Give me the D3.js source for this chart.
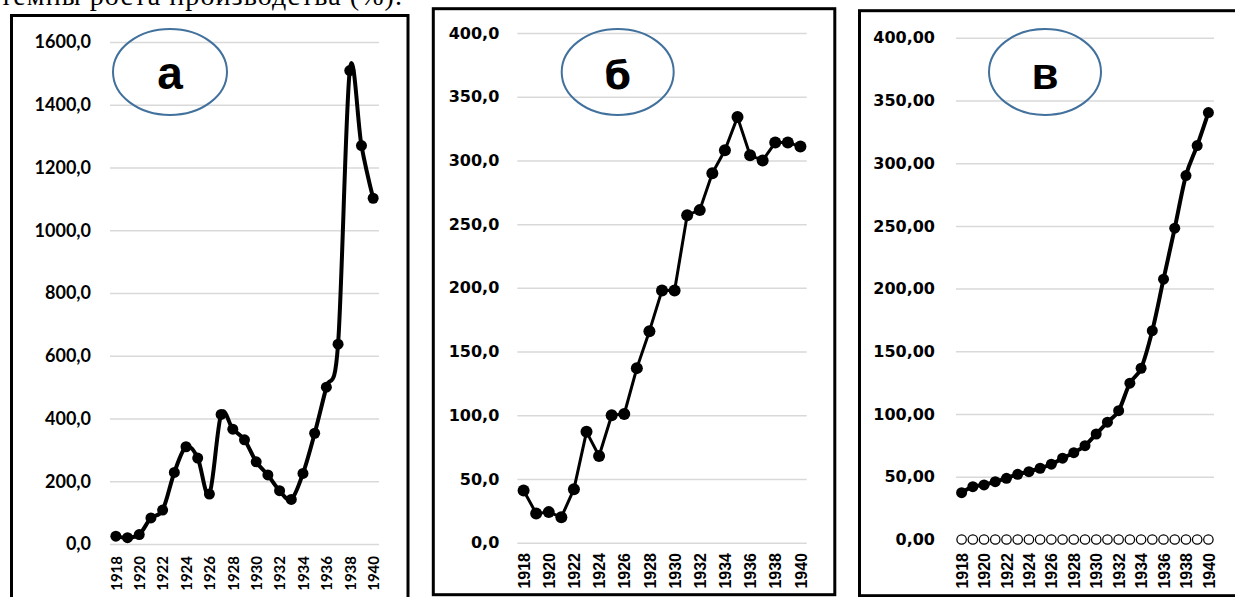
<!DOCTYPE html>
<html>
<head>
<meta charset="utf-8">
<script src="https://cdn.jsdelivr.net/npm/d3@7"></script>
<style>
body { margin: 0; background: #fff; }
</style>
</head>
<body>
<script>
var years = [1918,1919,1920,1921,1922,1923,1924,1925,1926,1927,1928,1929,1930,1931,1932,1933,1934,1935,1936,1937,1938,1939,1940]
var tickYears = [1918,1920,1922,1924,1926,1928,1930,1932,1934,1936,1938,1940]

var seriesA = [25,20,30,83,108,228,310,274,159,413,366,332,262,220,170,142,225,353,500,637,1509,1270,1102]
var seriesB = [41,23,24,20,42,87,68,100,101,137,166,198,198,257,261,290,308,334,304,300,314,314,311]
var seriesV = [37.3,42.1,43.5,46.1,48.8,52,54.1,56.8,60,64.8,69.2,74.8,84.1,93.5,102.7,124.6,136.5,166.5,207.5,248.2,290.1,314,340.3]
var seriesV0 = [0,0,0,0,0,0,0,0,0,0,0,0,0,0,0,0,0,0,0,0,0,0,0]

var ticksA = [0,200,400,600,800,1000,1200,1400,1600]
var ticksB = [0,50,100,150,200,250,300,350,400]
var ticksV = [0,50,100,150,200,250,300,350,400]

var labels = ["а", "б", "в"]

var ru = d3.formatLocale({decimal: ",", thousands: "", grouping: [3], currency: ["", ""]})

var svg = d3.select("body")
	.append("svg")
	.attr("width", 1235)
	.attr("height", 597)

// line of document text above the charts, cut by the top edge as in the scan
svg.append("text")
	.attr("x", 0)
	.attr("y", 5)
	.attr("textLength", 402)
	.attr("lengthAdjust", "spacing")
	.attr("font-family", "Liberation Serif")
	.attr("font-size", 28)
	.text("темпы роста производства (%).")

var panels = [
	{box: [11.5, 15.5, 396.5, 620], x: [110, 379], y: [544, 42], max: 1600, ticks: ticksA, fmt: ru.format(".1f"),
	 yFont: "Lato", ySize: 18, yPad: 19, xFont: "Lato", xSize: 15, xTop: 556,
	 series: [{v: seriesA, r: 5.5, w: 4, fill: "black", curve: d3.curveCatmullRom.alpha(0)}],
	 ell: [170, 72, 57, 43], label: labels[0], lFont: "Liberation Sans", lSize: 46},
	{box: [433.3, 8.7, 401.5, 586], x: [517.3, 806.7], y: [542.7, 33], max: 400, ticks: ticksB, fmt: ru.format(".1f"),
	 yFont: "DejaVu Sans", ySize: 16, yPad: 18, xFont: "Liberation Sans Narrow, Liberation Sans", xSize: 16, xTop: 553,
	 series: [{v: seriesB, r: 6, w: 3, fill: "black", curve: d3.curveLinear}],
	 ell: [617.7, 72, 56, 43], label: labels[1], lFont: "DejaVu Sans", lSize: 38},
	{box: [859.5, 10.7, 400, 585], x: [956, 1214], y: [539.5, 37.7], max: 400, ticks: ticksV, fmt: ru.format(".2f"),
	 yFont: "DejaVu Sans", ySize: 16, yPad: 21, xFont: "Liberation Sans Narrow, Liberation Sans", xSize: 16, xTop: 553,
	 series: [{v: seriesV0, r: 4.7, w: 0, fill: "white", curve: d3.curveLinear},
	          {v: seriesV, r: 5.5, w: 4, fill: "black", curve: d3.curveCatmullRom.alpha(0)}],
	 ell: [1045, 72, 56, 43], label: labels[2], lFont: "Liberation Sans", lSize: 44}
]

panels.forEach(drawPanel)

function drawPanel(p) {
	var g = svg.append("g")

	g.append("rect")
		.attr("x", p.box[0])
		.attr("y", p.box[1])
		.attr("width", p.box[2])
		.attr("height", p.box[3])
		.attr("fill", "none")
		.attr("stroke", "black")
		.attr("stroke-width", 3)

	var x = d3.scalePoint()
		.domain(years)
		.range(p.x)
		.padding(0.5)

	var y = d3.scaleLinear()
		.domain([0, p.max])
		.range(p.y)

	var yAxis = g.append("g")
		.attr("transform", "translate(" + p.x[0] + ",0)")
		.call(d3.axisLeft(y)
			.tickValues(p.ticks)
			.tickSize(-(p.x[1] - p.x[0]))
			.tickPadding(p.yPad)
			.tickFormat(p.fmt))
	yAxis.select(".domain").remove()
	yAxis.selectAll("line")
		.attr("stroke", "#d9d9d9")
		.attr("stroke-width", 1.5)
	yAxis.selectAll("text")
		.attr("font-family", p.yFont)
		.attr("font-weight", "bold")
		.attr("font-size", p.ySize)
		.attr("fill", "black")

	var xAxis = g.append("g")
		.attr("transform", "translate(0," + p.xTop + ")")
		.call(d3.axisBottom(x)
			.tickValues(tickYears)
			.tickSize(0))
	xAxis.select(".domain").remove()
	xAxis.selectAll("text")
		.attr("x", 0)
		.attr("y", 0)
		.attr("dy", "0.35em")
		.attr("transform", "rotate(-90)")
		.attr("text-anchor", "end")
		.attr("font-family", p.xFont)
		.attr("font-weight", "bold")
		.attr("font-size", p.xSize)
		.attr("fill", "black")

	p.series.forEach(function(s) {
		var pts = s.v.map(function(v, i) { return [x(years[i]), y(v)] })
		if (s.w > 0) {
			g.append("path")
				.attr("d", d3.line().curve(s.curve)(pts))
				.attr("fill", "none")
				.attr("stroke", "black")
				.attr("stroke-width", s.w)
				.attr("stroke-linejoin", "round")
		}
		g.selectAll(null)
			.data(pts)
			.enter()
			.append("circle")
			.attr("cx", function(d) { return d[0] })
			.attr("cy", function(d) { return d[1] })
			.attr("r", s.r)
			.attr("fill", s.fill)
			.attr("stroke", "black")
			.attr("stroke-width", s.fill == "white" ? 1.2 : 0)
	})

	g.append("ellipse")
		.attr("cx", p.ell[0])
		.attr("cy", p.ell[1])
		.attr("rx", p.ell[2])
		.attr("ry", p.ell[3])
		.attr("fill", "none")
		.attr("stroke", "#41719c")
		.attr("stroke-width", 2)

	g.append("text")
		.attr("x", p.ell[0])
		.attr("y", 89)
		.attr("text-anchor", "middle")
		.attr("font-family", p.lFont)
		.attr("font-weight", "bold")
		.attr("font-size", p.lSize)
		.text(p.label)
}
</script>
</body>
</html>
